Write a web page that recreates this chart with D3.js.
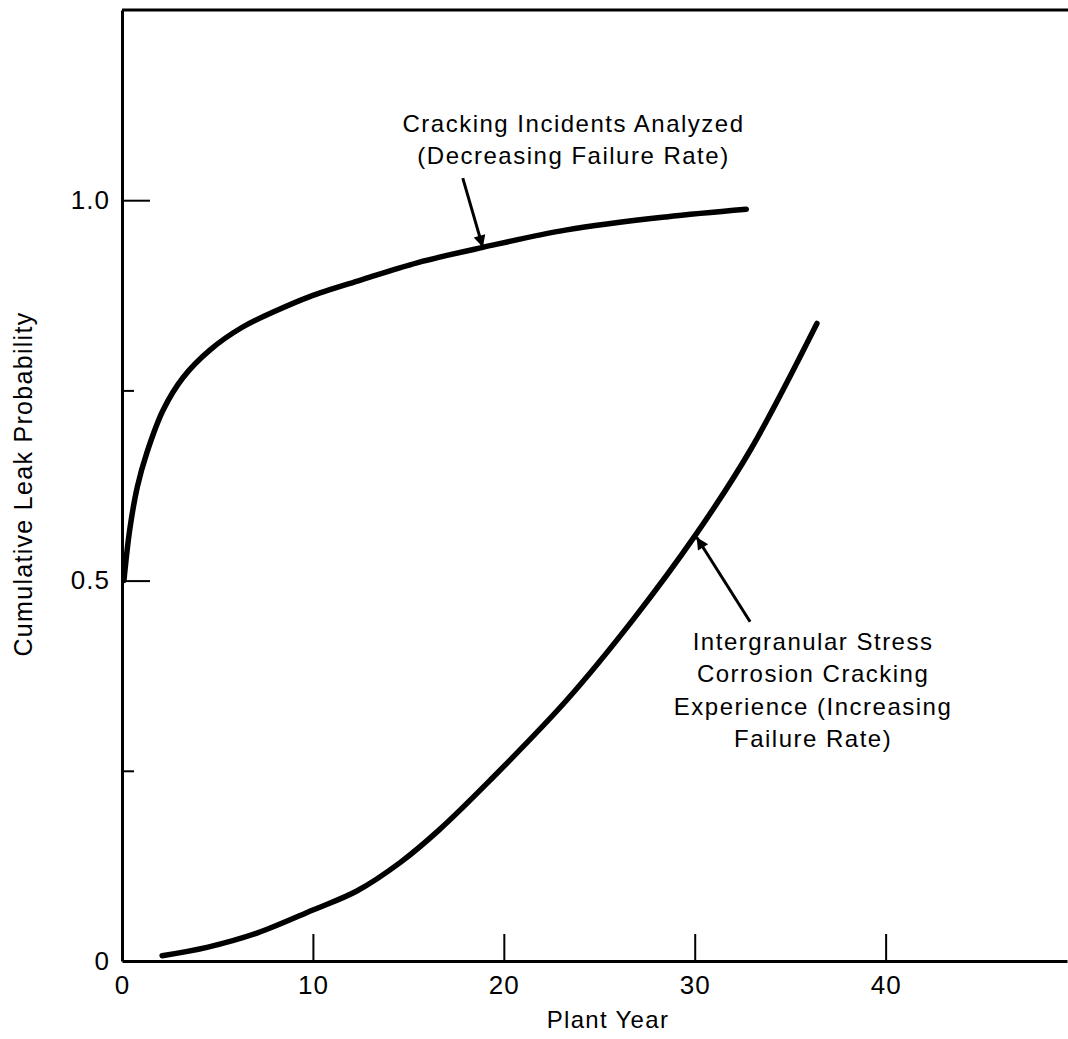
<!DOCTYPE html>
<html>
<head>
<meta charset="utf-8">
<script src="https://d3js.org/d3.v7.min.js"></script>
<style>
  body { margin: 0; background: #fff; }
  svg text { font-family: "Liberation Sans", Arial, Helvetica, sans-serif; fill: #000; }
</style>
</head>
<body>
<div id="chart"></div>
<script>
// Plant year vs cumulative leak probability
var decreasingYears  = [0.1, 0.4, 0.8, 1.3, 2.15, 3.2, 4.6, 6.3, 8.1, 9.8, 12.5, 15.5, 18.9, 23.3, 28.5, 32.7];
var decreasingValues = [0.50, 0.566, 0.623, 0.668, 0.724, 0.767, 0.803, 0.833, 0.855, 0.873, 0.895, 0.918, 0.938, 0.961, 0.978, 0.988];

var increasingYears  = [2.1, 4.45, 7.1, 10, 12.3, 14.6, 16.6, 19.3, 23.3, 26.75, 30.1, 32.9, 36.4];
var increasingValues = [0.007, 0.018, 0.037, 0.067, 0.092, 0.130, 0.172, 0.238, 0.343, 0.448, 0.562, 0.671, 0.838];

var xTicks = [0, 10, 20, 30, 40];
var yTicks = [0, 0.25, 0.5, 0.75, 1.0];
var yTickLabels = ["0", "", "0.5", "", "1.0"];

var label1 = ["Cracking Incidents Analyzed", "(Decreasing Failure Rate)"];
var label2 = ["Intergranular Stress", "Corrosion Cracking", "Experience (Increasing", "Failure Rate)"];

var width = 1068, height = 1039;

var svg = d3.select("#chart").append("svg")
    .attr("width", width)
    .attr("height", height);

var x = d3.scaleLinear().domain([0, 49.5]).range([122, 1067]);
var y = d3.scaleLinear().domain([0, 1.25]).range([961, 10]);

// x axis, ticks pointing up into the plot
var xAxis = svg.append("g")
    .attr("transform", "translate(0," + y(0) + ")")
    .call(d3.axisBottom(x).tickValues(xTicks).tickSize(-27).tickSizeOuter(0).tickPadding(15)
        .tickFormat(d3.format("d")));
xAxis.select(".domain").attr("stroke-width", 3);
xAxis.selectAll(".tick line").attr("stroke-width", 2)
    .filter(function(d) { return d === 0; }).remove();
xAxis.selectAll(".tick text").style("font-size", "26px").style("letter-spacing", "1px");

// y axis, major ticks long, minor short
var yAxis = svg.append("g")
    .attr("transform", "translate(" + x(0) + ",0)")
    .call(d3.axisLeft(y).tickValues(yTicks).tickSize(-28).tickSizeOuter(0).tickPadding(12)
        .tickFormat(function(d, i) { return yTickLabels[i]; }));
yAxis.select(".domain").attr("stroke-width", 3);
yAxis.selectAll(".tick line").attr("stroke-width", 2)
    .attr("x2", function(d, i) { return yTickLabels[i] ? 28 : 12; })
    .filter(function(d) { return d === 0; }).remove();
yAxis.selectAll(".tick text").style("font-size", "26px").style("letter-spacing", "1px");

// top border
svg.append("line")
    .attr("x1", x(0)).attr("x2", width)
    .attr("y1", y(1.25)).attr("y2", y(1.25))
    .attr("stroke", "#000").attr("stroke-width", 3);

// axis titles
svg.append("text")
    .attr("x", 608).attr("y", 1028)
    .attr("text-anchor", "middle")
    .style("font-size", "24px")
    .style("letter-spacing", "1.3px")
    .text("Plant Year");

svg.append("text")
    .attr("transform", "translate(32,484) rotate(-90)")
    .attr("text-anchor", "middle")
    .style("font-size", "25px")
    .style("letter-spacing", "1.3px")
    .text("Cumulative Leak Probability");

// curves
var line = d3.line()
    .x(function(d) { return x(d[0]); })
    .y(function(d) { return y(d[1]); })
    .curve(d3.curveCatmullRom.alpha(0.5));

var series = [
  d3.zip(decreasingYears, decreasingValues),
  d3.zip(increasingYears, increasingValues)
];

svg.selectAll("path.curve")
    .data(series)
    .enter().append("path")
    .attr("class", "curve")
    .attr("d", line)
    .attr("fill", "none")
    .attr("stroke", "#000")
    .attr("stroke-width", 5.5)
    .attr("stroke-linecap", "round");

// arrows
svg.append("defs").append("marker")
    .attr("id", "head")
    .attr("viewBox", "0 0 10 10")
    .attr("refX", 10).attr("refY", 5)
    .attr("markerWidth", 17).attr("markerHeight", 12)
    .attr("markerUnits", "userSpaceOnUse")
    .attr("orient", "auto")
    .append("path").attr("d", "M0,0 L10,5 L0,10 Z").attr("fill", "#000");

var arrows = [
  { from: [17.85, 1.029], to: [18.9, 0.938] },
  { from: [32.9, 0.446], to: [30.1, 0.557] }
];
svg.selectAll("line.arrow")
    .data(arrows)
    .enter().append("line")
    .attr("class", "arrow")
    .attr("x1", function(d) { return x(d.from[0]); })
    .attr("y1", function(d) { return y(d.from[1]); })
    .attr("x2", function(d) { return x(d.to[0]); })
    .attr("y2", function(d) { return y(d.to[1]); })
    .attr("stroke", "#000")
    .attr("stroke-width", 3)
    .attr("marker-end", "url(#head)");

// labels
function block(lines, cx, top) {
  svg.append("text")
      .attr("text-anchor", "middle")
      .style("font-size", "24px")
      .style("letter-spacing", "1.5px")
      .selectAll("tspan")
      .data(lines)
      .enter().append("tspan")
      .attr("x", x(cx))
      .attr("y", function(d, i) { return y(top) + i * 32.5; })
      .text(function(d) { return d; });
}
block(label1, 23.65, 1.090);
block(label2, 36.2, 0.409);
</script>
</body>
</html>
